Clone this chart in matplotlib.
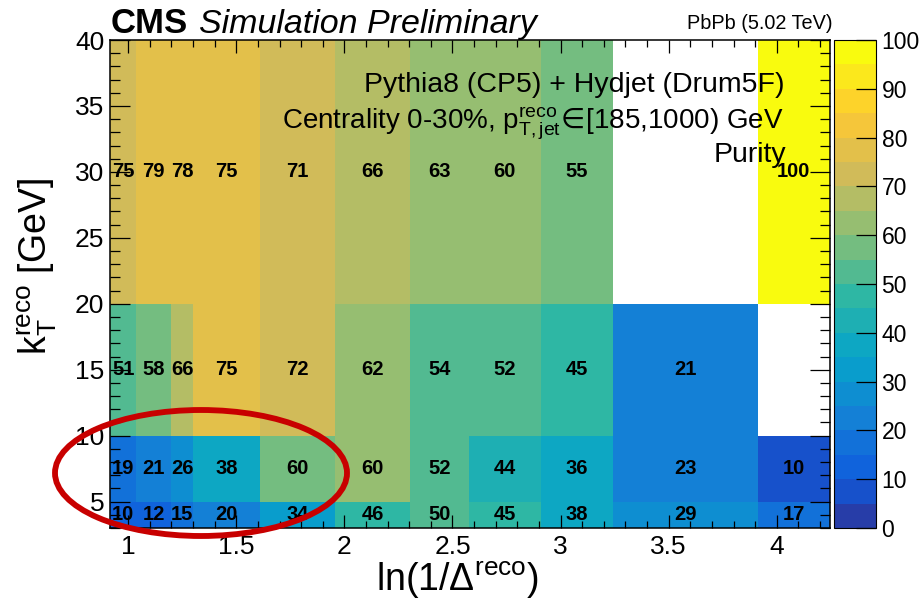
import numpy as np
import matplotlib
matplotlib.use("Agg")
import matplotlib.pyplot as plt
from matplotlib.colors import LinearSegmentedColormap, ListedColormap, Normalize
from matplotlib.patches import Ellipse
from matplotlib.ticker import MultipleLocator

plt.rcParams['font.family'] = ['Liberation Sans', 'DejaVu Sans']
plt.rcParams['mathtext.fontset'] = 'custom'
plt.rcParams['mathtext.rm'] = 'Liberation Sans'
plt.rcParams['mathtext.it'] = 'Liberation Sans:italic'
plt.rcParams['mathtext.bf'] = 'Liberation Sans:bold'
plt.rcParams['mathtext.sf'] = 'DejaVu Sans'
plt.rcParams['mathtext.fallback'] = 'stixsans'

# ---- data ----
x_edges = [0.916, 1.038, 1.198, 1.301, 1.609, 1.958, 2.303, 2.576, 2.909, 3.244, 3.912, 4.246]
y_edges = [3, 5, 10, 20, 40]
row_kt_3_5 = [10.2, 12.0, 15.2, 20.2, 34.0, 46.0, 50.3, 45.2, 38.0, 29.0, 17.0]
row_kt_5_10 = [19.0, 21.0, 26.0, 38.0, 59.7, 60.3, 52.0, 44.0, 36.0, 23.0, 9.8]
row_kt_10_20 = [51.0, 58.0, 66.0, 75.2, 72.0, 62.0, 54.0, 52.0, 45.2, 21.0, np.nan]
row_kt_20_40 = [74.6, 79.0, 78.0, 75.2, 71.0, 66.0, 63.0, 60.2, 55.0, np.nan, 100.0]
purity = np.array([row_kt_3_5, row_kt_5_10, row_kt_10_20, row_kt_20_40])
x_ticks = [1, 1.5, 2, 2.5, 3, 3.5, 4]
y_ticks = [5, 10, 15, 20, 25, 30, 35, 40]
z_ticks = [0, 10, 20, 30, 40, 50, 60, 70, 80, 90, 100]

# ---- ROOT kBird palette with 20 contours ----
stops = [0.0, 0.125, 0.25, 0.375, 0.5, 0.625, 0.75, 0.875, 1.0]
red = [0.2082, 0.0592, 0.0780, 0.0232, 0.1802, 0.5301, 0.8186, 0.9956, 0.9764]
green = [0.1664, 0.3599, 0.5041, 0.6419, 0.7178, 0.7492, 0.7328, 0.7862, 0.9832]
blue = [0.5293, 0.8684, 0.8385, 0.7914, 0.6425, 0.4662, 0.3499, 0.1968, 0.0539]
bird = LinearSegmentedColormap.from_list('bird', list(zip(stops, zip(red, green, blue))), N=255)
ncont = 20
cols = [bird(int((k + 0.99) * 255 / ncont)) for k in range(ncont)]
cmap = ListedColormap(cols)
norm = Normalize(0, 100)

W, H = 924, 601
fig = plt.figure(figsize=(W / 100, H / 100), dpi=100)

def fx(px):
    return px / W

def fy(py):
    return 1 - py / H

ax = fig.add_axes([fx(110), fy(528), (830 - 110) / W, (528 - 40) / H])
cax = fig.add_axes([fx(834), fy(528), (876 - 834) / W, (528 - 40) / H])

data = np.ma.masked_invalid(purity)
ax.pcolormesh(x_edges, y_edges, data, cmap=cmap, norm=norm, shading='flat')
ax.set_xlim(x_edges[0], x_edges[-1])
ax.set_ylim(y_edges[0], y_edges[-1])

xc = [(a + b) / 2 for a, b in zip(x_edges[:-1], x_edges[1:])]
yc = [4.0, 7.5, 15.0, 30.0]
for i in range(purity.shape[0]):
    for j in range(purity.shape[1]):
        v = purity[i, j]
        if np.isfinite(v):
            ax.text(xc[j], yc[i], f"{v:.0f}", ha='center', va='center',
                    fontsize=14.5, fontweight='bold', color='black')

ax.set_xticks(x_ticks)
ax.set_yticks(y_ticks)
ax.set_xticklabels([f"{t:g}" for t in x_ticks])
ax.set_yticklabels([f"{t:g}" for t in y_ticks])
ax.xaxis.set_minor_locator(MultipleLocator(0.1))
ax.yaxis.set_minor_locator(MultipleLocator(1))
ax.tick_params(which='both', direction='in', top=True, right=True, width=0.9, labelsize=19)
ax.xaxis.set_tick_params(which='major', length=9.5, pad=5)
ax.xaxis.set_tick_params(which='minor', length=4.7)
ax.yaxis.set_tick_params(which='major', length=14.4, pad=4)
ax.yaxis.set_tick_params(which='minor', length=7.2)
for s in ax.spines.values():
    s.set_linewidth(1.1)

# colorbar
cb = fig.colorbar(plt.cm.ScalarMappable(norm=norm, cmap=cmap), cax=cax,
                  boundaries=np.linspace(0, 100, ncont + 1))
cb.set_ticks(z_ticks)
cb.set_ticklabels([str(t) for t in z_ticks])
cax.tick_params(direction='in', length=14.4, width=0.9, labelsize=16.5, pad=4)
cb.outline.set_linewidth(0.8)
cax.minorticks_off()

# axis titles
fig.text(fx(457), fy(591), r"ln(1/$\Delta^{\rm reco}$)", ha='center', va='baseline', fontsize=27)
fig.text(fx(47), fy(267), r"k$_{\rm T}^{\rm reco}$ [GeV]", ha='center', va='baseline',
         rotation=90, rotation_mode='anchor', fontsize=27)

# header
fig.text(fx(111), fy(33), "CMS", fontsize=25, fontweight='bold', ha='left', va='baseline')
fig.text(fx(199), fy(33), "Simulation Preliminary", fontsize=24.5, style='italic', ha='left', va='baseline')
fig.text(fx(833), fy(29), "PbPb (5.02 TeV)", fontsize=14.3, ha='right', va='baseline')

# legend-like text
fig.text(fx(784), fy(92), "Pythia8 (CP5) + Hydjet (Drum5F)", fontsize=20.5, ha='right', va='baseline')
fig.text(fx(784), fy(128),
         r"Centrality 0-30%, p$^{\rm reco}_{\rm T,jet}\!\mathsf{\in}\!$[185,1000) GeV",
         fontsize=20, ha='right', va='baseline')
fig.text(fx(786), fy(162), "Purity", fontsize=20.5, ha='right', va='baseline')

# highlight ellipse
ell = Ellipse(((201 - 110) / 720, (528 - 473) / 488), 292 / 720, 126 / 488,
              transform=ax.transAxes, fill=False, edgecolor='#c80000', linewidth=4.2,
              clip_on=False, zorder=10)
ax.add_patch(ell)

fig.savefig("out.png", dpi=100)
